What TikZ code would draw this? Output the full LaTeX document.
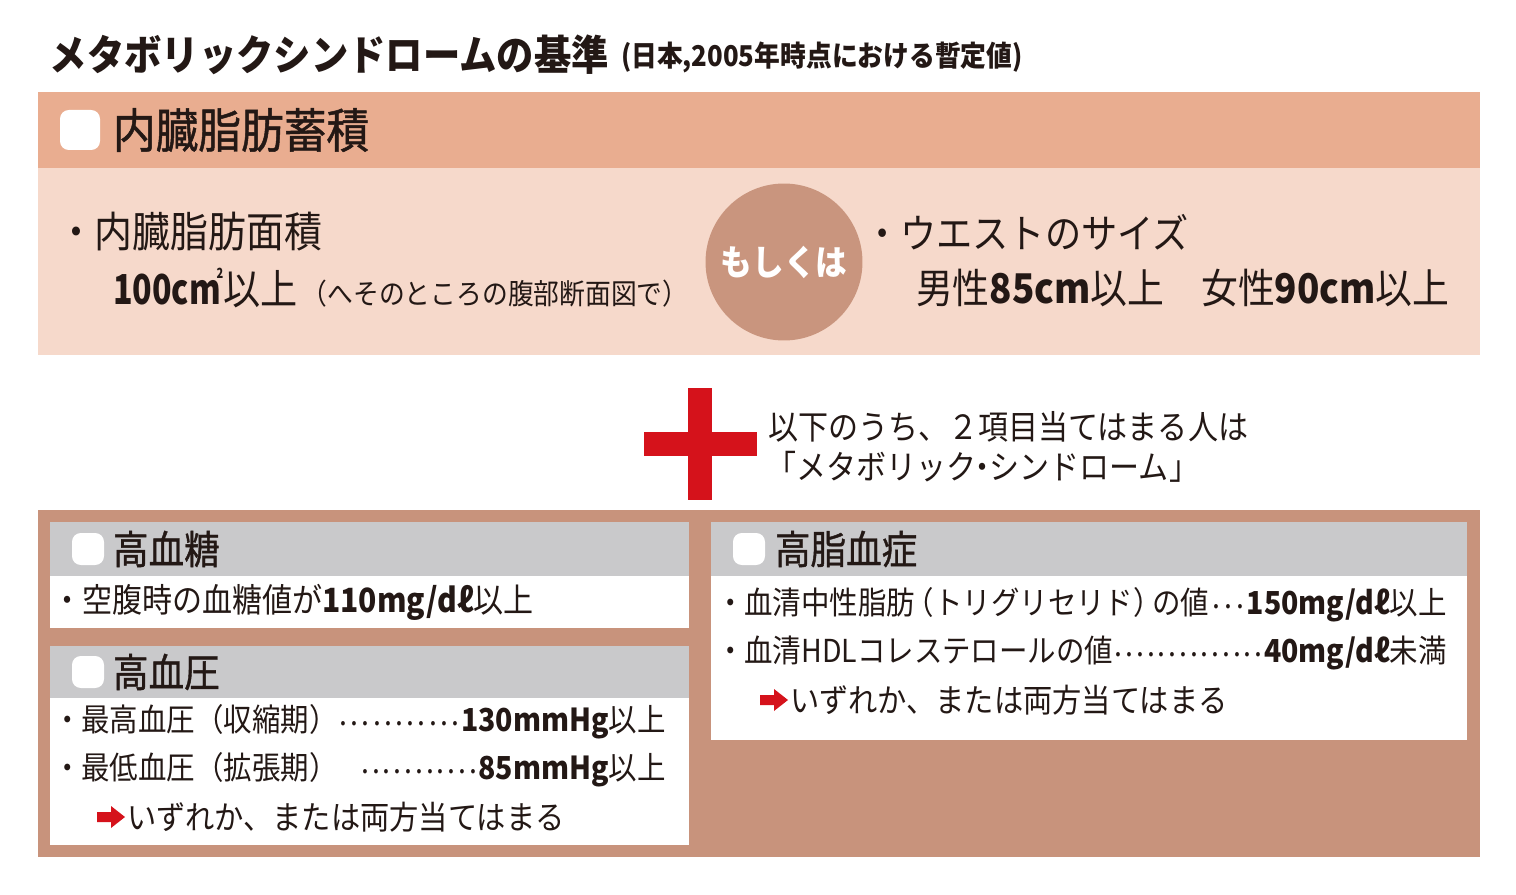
\documentclass[tikz,border=0pt]{standalone}
\usepackage{fontspec}
\setmainfont{Noto Sans CJK JP}[FakeStretch=0.9]
\newfontfamily\medfont{Noto Sans CJK JP}[FakeStretch=0.9, FakeBold=1]
\newfontfamily\numcond{Noto Sans CJK JP}[FakeStretch=0.78]
\definecolor{ink}{HTML}{231815}
\definecolor{salmon}{HTML}{E9AD90}
\definecolor{lightband}{HTML}{F6D9CB}
\definecolor{circc}{HTML}{C9957E}
\definecolor{brownbox}{HTML}{C8937C}
\definecolor{grayhead}{HTML}{C9C9CB}
\definecolor{redc}{HTML}{D5121B}
\newcommand{\fsz}[1]{\fontsize{#1}{#1}\selectfont}
\newcommand{\dotlead}{\xleaders\hbox to 0.34em{\hss\raisebox{0.2em}{.}\hss}\hfill}
\tikzset{
  lbl/.style={anchor=west, inner sep=0, outer sep=0, text=ink},
  headtxt/.style={lbl, font=\fsz{22.5}\medfont},
  bodytxt/.style={lbl, font=\fsz{18}},
  chk/.style={fill=white, rounded corners=5pt},
  redarrow/.style={fill=redc},
}
\begin{document}
\begin{tikzpicture}[x=0.02cm,y=-0.02cm]
\useasboundingbox (0,0) rectangle (1516,895);
\fill[white] (0,0) rectangle (1516,895);

% title
\node[lbl, font=\fsz{23.6}\bfseries] (title) at (50,55) {メタボリックシンドロームの基準};
\node[lbl, font=\fsz{16.3}\bfseries] (subtitle) at (621,57) {(日本,2005年時点における暫定値)};

% visceral fat section
\fill[salmon] (38,92) rectangle (1480,168);
\fill[lightband] (38,168) rectangle (1480,355);
\fill[chk] (60,110) rectangle (100,150);
\node[lbl, font=\fsz{27}\medfont] (vfat) at (113,130) {内臓脂肪蓄積};

\node[lbl, font=\fsz{24}] (area) at (57,232) {・内臓脂肪面積};
\node[lbl, font=\fsz{23.5}] (areaval) at (113,288) {{\numcond\bfseries 100cm\kern-0.1em\raisebox{0.62em}{\fsz{8}2}}以上\kern0.1em{\fsz{16.3}（へそのところの腹部断面図で）}};

\node[circle, fill=circc, minimum size=3.14cm, inner sep=0, text=white, font=\fsz{20}\bfseries] (or) at (784,262) {もしくは};

\node[lbl, font=\fsz{22.9}] (waist) at (864,232) {・ウエストのサイズ};
\node[lbl, font=\fsz{23.3}] (waistval) at (916,288) {男性{\bfseries 85cm}以上　女性{\bfseries 90cm}以上};

% plus sign
\fill[redc] (688,388) rectangle (712,500);
\fill[redc] (644,432) rectangle (757,456);
\node[lbl, font=\fsz{19}] (cond1) at (768,427) {以下のうち、２項目当てはまる人は};
\node[lbl, font=\fsz{19}] (cond2) at (766,467) {「メタボリック\kern-0.25em・\kern-0.25emシンドローム」};

% bottom box
\fill[brownbox] (38,510) rectangle (1480,857);

% panel 1
\fill[grayhead] (50,522) rectangle (689,576);
\fill[white] (50,576) rectangle (689,628);
\fill[chk] (72,533) rectangle (104,565);
\node[headtxt] (h1) at (113,549) {高血糖};
\node[bodytxt, font=\fsz{19}] (b1) at (52,602) {・空腹時の血糖値が{\bfseries 110mg/dℓ}以上};

% panel 2
\fill[grayhead] (50,646) rectangle (689,698);
\fill[white] (50,698) rectangle (689,845);
\fill[chk] (72,656) rectangle (104,688);
\node[headtxt] (h2) at (113,672) {高血圧};
\node[bodytxt] (b2a) at (53,722) {\hbox to 12.26cm{・最高血圧（収縮期）\dotlead{\bfseries 130mmHg}以上}};
\node[bodytxt] (b2b) at (53,770) {\hbox to 12.26cm{・最低血圧（拡張期）\hspace{0.7em}\dotlead{\bfseries 85mmHg}以上}};
\fill[redarrow] (97,812) -- (111,812) -- (111,806) -- (125,817) -- (111,828) -- (111,822) -- (97,822) -- cycle;
\node[bodytxt, font=\fsz{18.5}] (b2c) at (127,817) {いずれか、または両方当てはまる};

% panel 3
\fill[grayhead] (711,522) rectangle (1467,576);
\fill[white] (711,576) rectangle (1467,740);
\fill[chk] (733,533) rectangle (765,565);
\node[headtxt] (h3) at (775,549) {高脂血症};
\node[bodytxt] (b3a) at (716,605) {\hbox to 14.62cm{・血清中性脂肪\kern-0.3em（トリグリセリド）\kern-0.3emの値\dotlead{\bfseries 150mg/dℓ}以上}};
\node[bodytxt] (b3b) at (716,653) {\hbox to 14.62cm{・血清HDLコレステロールの値\dotlead{\bfseries 40mg/dℓ}未満}};
\fill[redarrow] (760,695) -- (774,695) -- (774,689) -- (788,700) -- (774,711) -- (774,705) -- (760,705) -- cycle;
\node[bodytxt, font=\fsz{18.5}] (b3c) at (790,700) {いずれか、または両方当てはまる};
\end{tikzpicture}
\end{document}
